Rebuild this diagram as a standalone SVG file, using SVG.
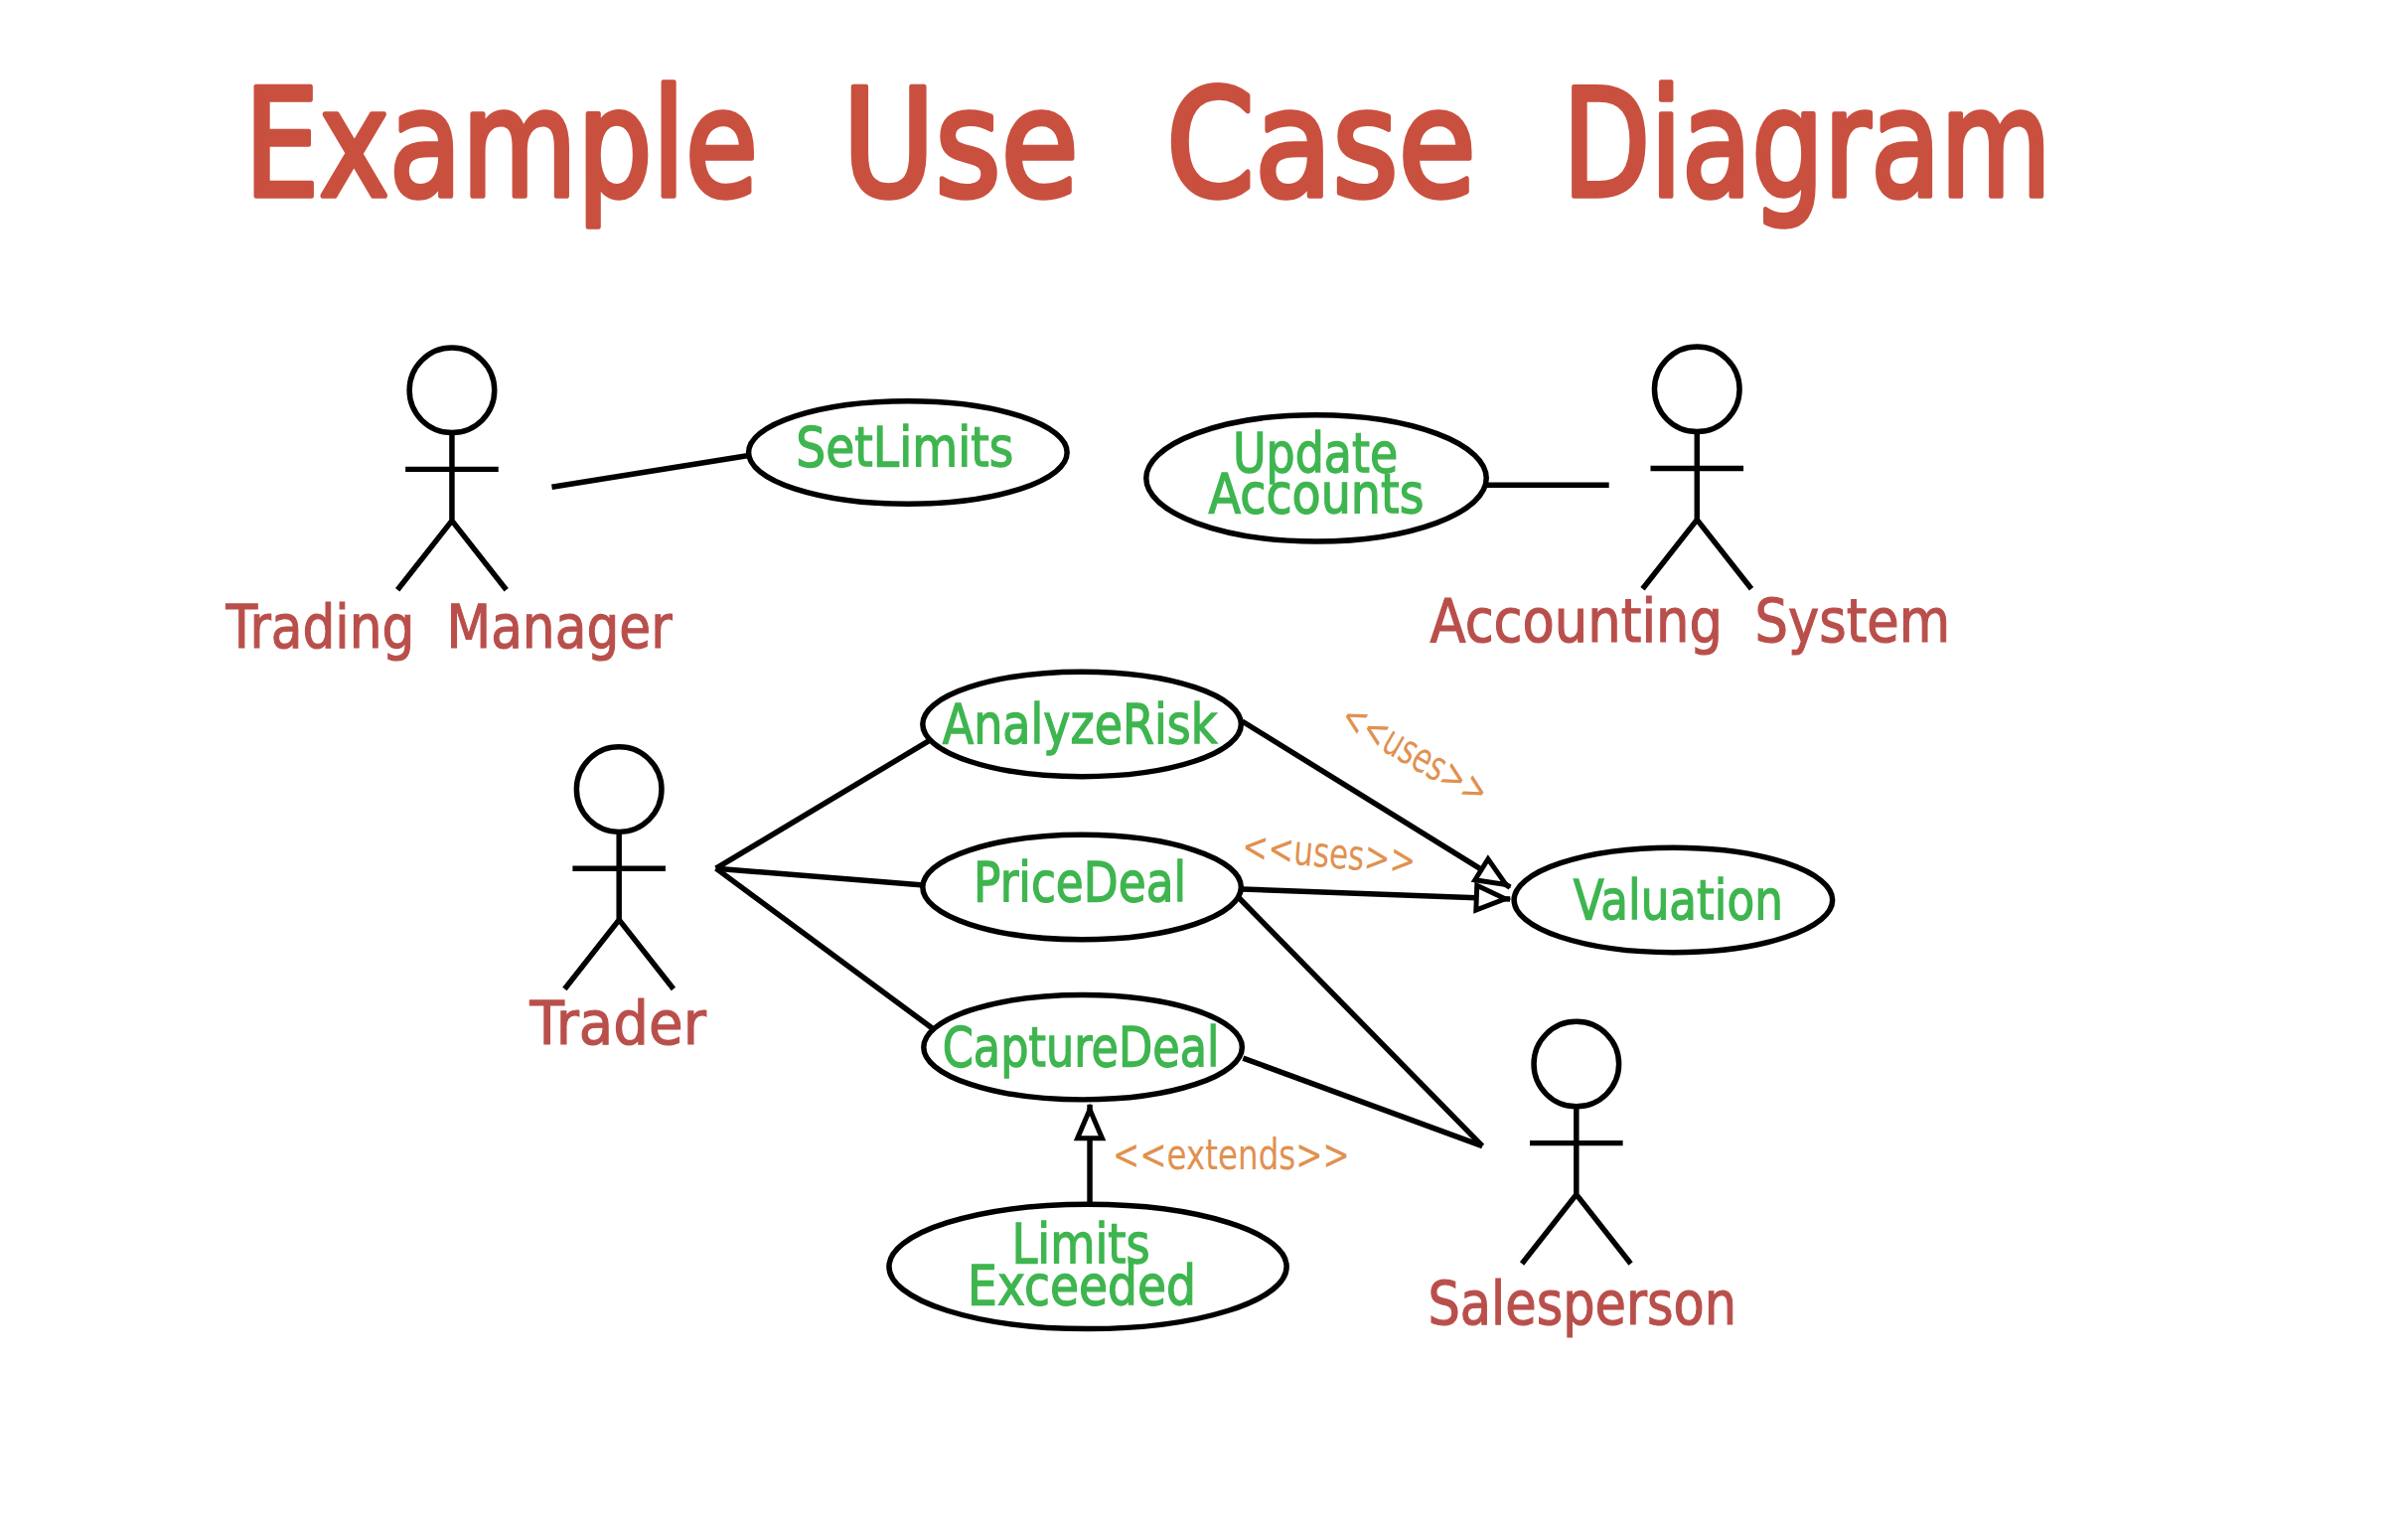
<svg xmlns="http://www.w3.org/2000/svg" width="2424" height="1526" viewBox="0 0 2424 1526">
<style>
text{font-family:"DejaVu Sans","Liberation Sans",sans-serif;text-anchor:middle}
.title{font-size:150px;fill:#c9503f;stroke:#c9503f;stroke-width:5.5;stroke-linejoin:round;text-anchor:start}
.actor{font-size:60px;fill:#b94f4b;stroke:#b94f4b;stroke-width:1.2}
.uc{font-size:56px;fill:#3eb54f;stroke:#3eb54f;stroke-width:1.4}
.st{font-size:42px;fill:#e0914f}
.shape{fill:#fff;stroke:#000;stroke-width:5.5}
.stick{fill:none;stroke:#000;stroke-width:5.5}
.conn{fill:none;stroke:#000;stroke-width:5.5}
</style>
<defs>
<g id="stickman"><circle class="shape" cx="0" cy="0" r="43"/><path class="stick" d="M0 43V132M-47 80H47M0 132L-55 202M0 132L55 202"/></g>
<marker id="tri" viewBox="0 0 44 30" refX="38" refY="15" markerUnits="userSpaceOnUse" markerWidth="44" markerHeight="30" orient="auto" overflow="visible"><path d="M4 2.5L33 15L4 27.5Z" fill="#fff" stroke="#000" stroke-width="5"/></marker>
</defs>
<rect width="2424" height="1526" fill="#fff"/>
<text class="title" y="197"><tspan x="246" textLength="517" lengthAdjust="spacingAndGlyphs">Example</tspan> <tspan x="848" textLength="238" lengthAdjust="spacingAndGlyphs">Use</tspan> <tspan x="1174" textLength="312" lengthAdjust="spacingAndGlyphs">Case</tspan> <tspan x="1573" textLength="492" lengthAdjust="spacingAndGlyphs">Diagram</tspan></text>
<g transform="scale(.9955 .9945)">
<g id="connectors">
<path class="conn" d="M558 493L757 461"/>
<path class="conn" d="M1503 491H1627"/>
<path class="conn" d="M724 879L939 750"/>
<path class="conn" d="M724 879L934 896"/>
<path class="conn" d="M724 879L943 1041"/>
<path class="conn" marker-end="url(#tri)" d="M1256 730L1527 898"/>
<path class="conn" marker-end="url(#tri)" d="M1256 900L1527 910"/>
<path class="conn" d="M1253 909L1499 1160"/>
<path class="conn" d="M1257 1071L1499 1160"/>
<path class="conn" marker-end="url(#tri)" d="M1102 1220V1118"/>
</g>
<g id="actor-trading-manager"><use href="#stickman" x="457" y="395"/><text class="actor" x="454" y="656" word-spacing="18" textLength="451" lengthAdjust="spacingAndGlyphs">Trading Manager</text></g>
<g id="actor-accounting-system"><use href="#stickman" x="1716" y="394"/><text class="actor" x="1709" y="650" word-spacing="18" textLength="526" lengthAdjust="spacingAndGlyphs">Accounting System</text></g>
<g id="actor-trader"><use href="#stickman" x="626" y="799"/><text class="actor" x="625" y="1057" textLength="178" lengthAdjust="spacingAndGlyphs">Trader</text></g>
<g id="actor-salesperson"><use href="#stickman" x="1594" y="1077"/><text class="actor" x="1600" y="1340" textLength="312" lengthAdjust="spacingAndGlyphs">Salesperson</text></g>
<g id="uc-setlimits"><ellipse class="shape" cx="918" cy="458" rx="161" ry="52"/><text class="uc" x="915" y="472" textLength="220" lengthAdjust="spacingAndGlyphs">SetLimits</text></g>
<g id="uc-update-accounts"><ellipse class="shape" cx="1331" cy="484" rx="172" ry="64"/><text class="uc" x="1330" y="478" textLength="167" lengthAdjust="spacingAndGlyphs">Update</text><text class="uc" x="1331" y="519" textLength="218" lengthAdjust="spacingAndGlyphs">Accounts</text></g>
<g id="uc-analyzerisk"><ellipse class="shape" cx="1094" cy="733" rx="161" ry="53"/><text class="uc" x="1092" y="752" textLength="278" lengthAdjust="spacingAndGlyphs">AnalyzeRisk</text></g>
<g id="uc-pricedeal"><ellipse class="shape" cx="1094" cy="898" rx="161" ry="53"/><text class="uc" x="1092" y="912" textLength="215" lengthAdjust="spacingAndGlyphs">PriceDeal</text></g>
<g id="uc-capturedeal"><ellipse class="shape" cx="1095" cy="1060" rx="161" ry="53"/><text class="uc" x="1093" y="1079" textLength="280" lengthAdjust="spacingAndGlyphs">CaptureDeal</text></g>
<g id="uc-valuation"><ellipse class="shape" cx="1692" cy="911" rx="161" ry="53"/><text class="uc" x="1697" y="930" textLength="212" lengthAdjust="spacingAndGlyphs">Valuation</text></g>
<g id="uc-limits-exceeded"><ellipse class="shape" cx="1100" cy="1282" rx="201" ry="63"/><text class="uc" x="1093" y="1278" textLength="140" lengthAdjust="spacingAndGlyphs">Limits</text><text class="uc" x="1094" y="1320" textLength="231" lengthAdjust="spacingAndGlyphs">Exceeded</text></g>
<g id="labels">
<text class="st" x="1431" y="777" transform="rotate(30 1431 763)" textLength="165" lengthAdjust="spacingAndGlyphs">&lt;&lt;uses&gt;&gt;</text>
<text class="st" x="1344" y="878" transform="rotate(5 1344 864)" textLength="176" lengthAdjust="spacingAndGlyphs">&lt;&lt;uses&gt;&gt;</text>
<text class="st" x="1245" y="1184" textLength="240" lengthAdjust="spacingAndGlyphs">&lt;&lt;extends&gt;&gt;</text>
</g>
</g>
</svg>
